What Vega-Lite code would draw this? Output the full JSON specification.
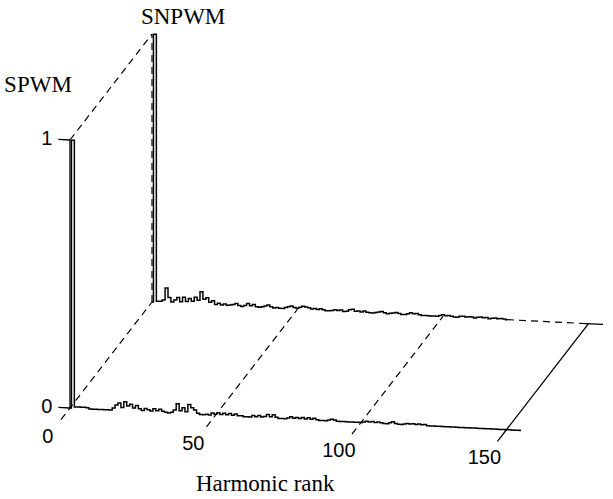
{
  "$schema": "https://vega.github.io/schema/vega-lite/v6.json",
  "width": 613,
  "height": 499,
  "autosize": {"type": "fit", "contains": "padding"},
  "padding": 0,
  "background": "white",
  "config": {"view": {"stroke": null}},
  "datasets": {
    "spectra": [
      {"s":"SPWM","h":0,"a":0},{"s":"SPWM","h":1,"a":1},{"s":"SPWM","h":2,"a":0.005},{"s":"SPWM","h":3,"a":0.005},{"s":"SPWM","h":4,"a":0.005},{"s":"SPWM","h":5,"a":0.005},{"s":"SPWM","h":6,"a":0.004},{"s":"SPWM","h":7,"a":0},{"s":"SPWM","h":8,"a":0},{"s":"SPWM","h":9,"a":0},{"s":"SPWM","h":10,"a":0},{"s":"SPWM","h":11,"a":0},{"s":"SPWM","h":12,"a":0},{"s":"SPWM","h":13,"a":0},{"s":"SPWM","h":14,"a":0},
      {"s":"SPWM","h":15,"a":0.008},{"s":"SPWM","h":16,"a":0.02},{"s":"SPWM","h":17,"a":0.028},{"s":"SPWM","h":18,"a":0.012},{"s":"SPWM","h":19,"a":0.034},{"s":"SPWM","h":20,"a":0.018},{"s":"SPWM","h":21,"a":0.025},{"s":"SPWM","h":22,"a":0.012},{"s":"SPWM","h":23,"a":0.022},{"s":"SPWM","h":24,"a":0.01},
      {"s":"SPWM","h":25,"a":0.004},{"s":"SPWM","h":26,"a":0.012},{"s":"SPWM","h":27,"a":0.008},{"s":"SPWM","h":28,"a":0.004},{"s":"SPWM","h":29,"a":0.013},{"s":"SPWM","h":30,"a":0.006},{"s":"SPWM","h":31,"a":0.012},{"s":"SPWM","h":32,"a":0.005},{"s":"SPWM","h":33,"a":0.002},{"s":"SPWM","h":34,"a":0},{"s":"SPWM","h":35,"a":0.003},
      {"s":"SPWM","h":36,"a":0.012},{"s":"SPWM","h":37,"a":0.036},{"s":"SPWM","h":38,"a":0.01},{"s":"SPWM","h":39,"a":0.022},{"s":"SPWM","h":40,"a":0.008},{"s":"SPWM","h":41,"a":0.035},{"s":"SPWM","h":42,"a":0.024},{"s":"SPWM","h":43,"a":0.016},{"s":"SPWM","h":44,"a":0.004},
      {"s":"SPWM","h":45,"a":0},{"s":"SPWM","h":46,"a":0},{"s":"SPWM","h":47,"a":0.002},{"s":"SPWM","h":48,"a":0},{"s":"SPWM","h":49,"a":0.008},{"s":"SPWM","h":50,"a":0.004},{"s":"SPWM","h":51,"a":0.01},{"s":"SPWM","h":52,"a":0.004},{"s":"SPWM","h":53,"a":0.009},{"s":"SPWM","h":54,"a":0.004},{"s":"SPWM","h":55,"a":0.009},{"s":"SPWM","h":56,"a":0.003},{"s":"SPWM","h":57,"a":0.008},{"s":"SPWM","h":58,"a":0.002},{"s":"SPWM","h":59,"a":0.003},
      {"s":"SPWM","h":60,"a":0},{"s":"SPWM","h":61,"a":0},{"s":"SPWM","h":62,"a":0},{"s":"SPWM","h":63,"a":0.006},{"s":"SPWM","h":64,"a":0.002},{"s":"SPWM","h":65,"a":0.007},{"s":"SPWM","h":66,"a":0.002},{"s":"SPWM","h":67,"a":0.004},{"s":"SPWM","h":68,"a":0.012},{"s":"SPWM","h":69,"a":0.005},{"s":"SPWM","h":70,"a":0.013},{"s":"SPWM","h":71,"a":0.004},{"s":"SPWM","h":72,"a":0},{"s":"SPWM","h":73,"a":0},{"s":"SPWM","h":74,"a":0},
      {"s":"SPWM","h":75,"a":0.003},{"s":"SPWM","h":76,"a":0.008},{"s":"SPWM","h":77,"a":0.003},{"s":"SPWM","h":78,"a":0.007},{"s":"SPWM","h":79,"a":0.003},{"s":"SPWM","h":80,"a":0.008},{"s":"SPWM","h":81,"a":0.003},{"s":"SPWM","h":82,"a":0.008},{"s":"SPWM","h":83,"a":0.003},{"s":"SPWM","h":84,"a":0.007},{"s":"SPWM","h":85,"a":0.002},{"s":"SPWM","h":86,"a":0},{"s":"SPWM","h":87,"a":0},{"s":"SPWM","h":88,"a":0},{"s":"SPWM","h":89,"a":0.003},
      {"s":"SPWM","h":90,"a":0.007},{"s":"SPWM","h":91,"a":0.004},{"s":"SPWM","h":92,"a":0},{"s":"SPWM","h":93,"a":0},{"s":"SPWM","h":94,"a":0},{"s":"SPWM","h":95,"a":0},{"s":"SPWM","h":96,"a":0},{"s":"SPWM","h":97,"a":0},{"s":"SPWM","h":98,"a":0},{"s":"SPWM","h":99,"a":0},{"s":"SPWM","h":100,"a":0},
      {"s":"SPWM","h":101,"a":0.002},{"s":"SPWM","h":102,"a":0.006},{"s":"SPWM","h":103,"a":0.003},{"s":"SPWM","h":104,"a":0.006},{"s":"SPWM","h":105,"a":0.003},{"s":"SPWM","h":106,"a":0.005},{"s":"SPWM","h":107,"a":0.003},{"s":"SPWM","h":108,"a":0},{"s":"SPWM","h":109,"a":0},{"s":"SPWM","h":110,"a":0.004},{"s":"SPWM","h":111,"a":0.009},{"s":"SPWM","h":112,"a":0.003},{"s":"SPWM","h":113,"a":0},{"s":"SPWM","h":114,"a":0},
      {"s":"SPWM","h":115,"a":0.002},{"s":"SPWM","h":116,"a":0.005},{"s":"SPWM","h":117,"a":0.003},{"s":"SPWM","h":118,"a":0.005},{"s":"SPWM","h":119,"a":0.003},{"s":"SPWM","h":120,"a":0.005},{"s":"SPWM","h":121,"a":0.003},{"s":"SPWM","h":122,"a":0.004},{"s":"SPWM","h":123,"a":0},{"s":"SPWM","h":124,"a":0},{"s":"SPWM","h":125,"a":0},
      {"s":"SPWM","h":126,"a":0},{"s":"SPWM","h":127,"a":0},{"s":"SPWM","h":128,"a":0},{"s":"SPWM","h":129,"a":0},{"s":"SPWM","h":130,"a":0},{"s":"SPWM","h":131,"a":0},{"s":"SPWM","h":132,"a":0},{"s":"SPWM","h":133,"a":0},{"s":"SPWM","h":134,"a":0},{"s":"SPWM","h":135,"a":0},{"s":"SPWM","h":136,"a":0},{"s":"SPWM","h":137,"a":0},{"s":"SPWM","h":138,"a":0},{"s":"SPWM","h":139,"a":0},{"s":"SPWM","h":140,"a":0},
      {"s":"SPWM","h":141,"a":0},{"s":"SPWM","h":142,"a":0},{"s":"SPWM","h":143,"a":0},{"s":"SPWM","h":144,"a":0},{"s":"SPWM","h":145,"a":0},{"s":"SPWM","h":146,"a":0},{"s":"SPWM","h":147,"a":0},{"s":"SPWM","h":148,"a":0},{"s":"SPWM","h":149,"a":0},{"s":"SPWM","h":150,"a":0},{"s":"SPWM","h":151,"a":0},{"s":"SPWM","h":152,"a":0},{"s":"SPWM","h":153,"a":0},{"s":"SPWM","h":154,"a":0},{"s":"SPWM","h":155,"a":0},

      {"s":"SNPWM","h":0,"a":0},{"s":"SNPWM","h":1,"a":1},{"s":"SNPWM","h":2,"a":0.004},{"s":"SNPWM","h":3,"a":0.004},{"s":"SNPWM","h":4,"a":0.01},{"s":"SNPWM","h":5,"a":0.055},{"s":"SNPWM","h":6,"a":0.02},{"s":"SNPWM","h":7,"a":0.004},{"s":"SNPWM","h":8,"a":0.012},{"s":"SNPWM","h":9,"a":0.022},{"s":"SNPWM","h":10,"a":0.006},
      {"s":"SNPWM","h":11,"a":0.024},{"s":"SNPWM","h":12,"a":0.008},{"s":"SNPWM","h":13,"a":0.02},{"s":"SNPWM","h":14,"a":0.01},{"s":"SNPWM","h":15,"a":0.026},{"s":"SNPWM","h":16,"a":0.015},{"s":"SNPWM","h":17,"a":0.047},{"s":"SNPWM","h":18,"a":0.02},{"s":"SNPWM","h":19,"a":0.026},{"s":"SNPWM","h":20,"a":0.01},
      {"s":"SNPWM","h":21,"a":0.016},{"s":"SNPWM","h":22,"a":0.003},{"s":"SNPWM","h":23,"a":0.008},{"s":"SNPWM","h":24,"a":0.002},{"s":"SNPWM","h":25,"a":0.006},{"s":"SNPWM","h":26,"a":0.002},{"s":"SNPWM","h":27,"a":0.003},{"s":"SNPWM","h":28,"a":0.006},{"s":"SNPWM","h":29,"a":0.01},{"s":"SNPWM","h":30,"a":0.003},
      {"s":"SNPWM","h":31,"a":0},{"s":"SNPWM","h":32,"a":0.004},{"s":"SNPWM","h":33,"a":0.012},{"s":"SNPWM","h":34,"a":0.004},{"s":"SNPWM","h":35,"a":0.01},{"s":"SNPWM","h":36,"a":0.002},{"s":"SNPWM","h":37,"a":0},{"s":"SNPWM","h":38,"a":0.003},{"s":"SNPWM","h":39,"a":0.006},{"s":"SNPWM","h":40,"a":0.01},
      {"s":"SNPWM","h":41,"a":0.004},{"s":"SNPWM","h":42,"a":0},{"s":"SNPWM","h":43,"a":0.003},{"s":"SNPWM","h":44,"a":0},{"s":"SNPWM","h":45,"a":0},{"s":"SNPWM","h":46,"a":0.004},{"s":"SNPWM","h":47,"a":0.008},{"s":"SNPWM","h":48,"a":0.011},{"s":"SNPWM","h":49,"a":0.006},{"s":"SNPWM","h":50,"a":0.004},
      {"s":"SNPWM","h":51,"a":0.008},{"s":"SNPWM","h":52,"a":0.012},{"s":"SNPWM","h":53,"a":0.01},{"s":"SNPWM","h":54,"a":0.008},{"s":"SNPWM","h":55,"a":0.004},{"s":"SNPWM","h":56,"a":0.006},{"s":"SNPWM","h":57,"a":0.003},{"s":"SNPWM","h":58,"a":0.006},{"s":"SNPWM","h":59,"a":0.003},{"s":"SNPWM","h":60,"a":0},
      {"s":"SNPWM","h":61,"a":0},{"s":"SNPWM","h":62,"a":0.002},{"s":"SNPWM","h":63,"a":0.005},{"s":"SNPWM","h":64,"a":0.003},{"s":"SNPWM","h":65,"a":0.005},{"s":"SNPWM","h":66,"a":0},{"s":"SNPWM","h":67,"a":0.002},{"s":"SNPWM","h":68,"a":0.008},{"s":"SNPWM","h":69,"a":0.01},{"s":"SNPWM","h":70,"a":0.003},
      {"s":"SNPWM","h":71,"a":0.005},{"s":"SNPWM","h":72,"a":0.002},{"s":"SNPWM","h":73,"a":0.006},{"s":"SNPWM","h":74,"a":0.002},{"s":"SNPWM","h":75,"a":0},{"s":"SNPWM","h":76,"a":0},{"s":"SNPWM","h":77,"a":0.002},{"s":"SNPWM","h":78,"a":0.005},{"s":"SNPWM","h":79,"a":0.007},{"s":"SNPWM","h":80,"a":0.003},
      {"s":"SNPWM","h":81,"a":0},{"s":"SNPWM","h":82,"a":0.002},{"s":"SNPWM","h":83,"a":0.004},{"s":"SNPWM","h":84,"a":0.006},{"s":"SNPWM","h":85,"a":0.003},{"s":"SNPWM","h":86,"a":0},{"s":"SNPWM","h":87,"a":0},{"s":"SNPWM","h":88,"a":0.004},{"s":"SNPWM","h":89,"a":0.008},{"s":"SNPWM","h":90,"a":0.005},
      {"s":"SNPWM","h":91,"a":0.006},{"s":"SNPWM","h":92,"a":0.002},{"s":"SNPWM","h":93,"a":0},{"s":"SNPWM","h":94,"a":0},{"s":"SNPWM","h":95,"a":0},{"s":"SNPWM","h":96,"a":0},{"s":"SNPWM","h":97,"a":0},{"s":"SNPWM","h":98,"a":0},{"s":"SNPWM","h":99,"a":0.003},{"s":"SNPWM","h":100,"a":0.006},
      {"s":"SNPWM","h":101,"a":0.003},{"s":"SNPWM","h":102,"a":0.005},{"s":"SNPWM","h":103,"a":0.002},{"s":"SNPWM","h":104,"a":0},{"s":"SNPWM","h":105,"a":0},{"s":"SNPWM","h":106,"a":0.004},{"s":"SNPWM","h":107,"a":0.005},{"s":"SNPWM","h":108,"a":0.002},{"s":"SNPWM","h":109,"a":0.004},{"s":"SNPWM","h":110,"a":0.003},
      {"s":"SNPWM","h":111,"a":0},{"s":"SNPWM","h":112,"a":0.004},{"s":"SNPWM","h":113,"a":0.005},{"s":"SNPWM","h":114,"a":0.003},{"s":"SNPWM","h":115,"a":0.004},{"s":"SNPWM","h":116,"a":0},{"s":"SNPWM","h":117,"a":0.003},{"s":"SNPWM","h":118,"a":0.004},{"s":"SNPWM","h":119,"a":0.002},{"s":"SNPWM","h":120,"a":0.003},
      {"s":"SNPWM","h":121,"a":0.002},{"s":"SNPWM","h":122,"a":0}
    ],
    "frame": [
      {"seg":"front-axis","h":0,"d":0,"a":0,"h2":0,"d2":0,"a2":1},
      {"seg":"tick-a0","h":-4,"d":0,"a":0,"h2":0,"d2":0,"a2":0},
      {"seg":"tick-a1","h":-4,"d":0,"a":1,"h2":0,"d2":0,"a2":1},
      {"seg":"depth-0","h":0,"d":-0.11,"a":0,"h2":0,"d2":1,"a2":0},
      {"seg":"depth-50","h":50,"d":-0.11,"a":0,"h2":50,"d2":1,"a2":0},
      {"seg":"depth-100","h":100,"d":-0.11,"a":0,"h2":100,"d2":1,"a2":0},
      {"seg":"depth-150","h":150,"d":-0.11,"a":0,"h2":150,"d2":1,"a2":0},
      {"seg":"top-link","h":0,"d":0,"a":1,"h2":0,"d2":1,"a2":1},
      {"seg":"back-axis","h":0,"d":1,"a":0,"h2":0,"d2":1,"a2":1},
      {"seg":"back-tail","h":122,"d":1,"a":0,"h2":150,"d2":1,"a2":0},
      {"seg":"back-corner","h":149,"d":1,"a":0,"h2":155,"d2":1,"a2":0}
    ],
    "labels": [
      {"role":"tick","text":"0","h":0,"d":-0.27,"a":0},
      {"role":"tick","text":"50","h":50,"d":-0.27,"a":0},
      {"role":"tick","text":"100","h":100,"d":-0.27,"a":0},
      {"role":"tick","text":"150","h":150,"d":-0.27,"a":0},
      {"role":"tick","text":"0","h":-8,"d":0,"a":0},
      {"role":"tick","text":"1","h":-8,"d":0,"a":1},
      {"role":"title","text":"SPWM","h":-11,"d":0,"a":1.2},
      {"role":"title","text":"SNPWM","h":10.7,"d":1,"a":1.07},
      {"role":"title","text":"Harmonic rank","h":84,"d":-0.6,"a":0}
    ]
  },
  "layer": [
    {
      "data": {"name": "frame"},
      "transform": [
        {"filter": {"field": "seg", "oneOf": ["depth-0", "depth-50", "depth-100", "top-link", "back-axis", "back-tail"]}},
        {"calculate": "datum.h + 28.18*datum.d", "as": "xs"},
        {"calculate": "datum.a - 0.00054*datum.h + 0.3955*datum.d", "as": "ys"},
        {"calculate": "datum.h2 + 28.18*datum.d2", "as": "xs2"},
        {"calculate": "datum.a2 - 0.00054*datum.h2 + 0.3955*datum.d2", "as": "ys2"}
      ],
      "mark": {"type": "rule", "color": "black", "strokeWidth": 1.2, "strokeDash": [7, 5]},
      "encoding": {
        "x": {"field": "xs", "type": "quantitative", "axis": null, "scale": {"domain": [-24.05, 186.6], "nice": false, "zero": false}},
        "y": {"field": "ys", "type": "quantitative", "axis": null, "scale": {"domain": [-0.3396, 1.5224], "nice": false, "zero": false}},
        "x2": {"field": "xs2"},
        "y2": {"field": "ys2"}
      }
    },
    {
      "data": {"name": "frame"},
      "transform": [
        {"filter": {"field": "seg", "oneOf": ["front-axis", "tick-a0", "tick-a1", "depth-150", "back-corner"]}},
        {"calculate": "datum.h + 28.18*datum.d", "as": "xs"},
        {"calculate": "datum.a - 0.00054*datum.h + 0.3955*datum.d", "as": "ys"},
        {"calculate": "datum.h2 + 28.18*datum.d2", "as": "xs2"},
        {"calculate": "datum.a2 - 0.00054*datum.h2 + 0.3955*datum.d2", "as": "ys2"}
      ],
      "mark": {"type": "rule", "color": "black", "strokeWidth": 1.3},
      "encoding": {
        "x": {"field": "xs", "type": "quantitative"},
        "y": {"field": "ys", "type": "quantitative"},
        "x2": {"field": "xs2"},
        "y2": {"field": "ys2"}
      }
    },
    {
      "data": {"name": "spectra"},
      "transform": [
        {"calculate": "datum.s === 'SNPWM' ? 1 : 0", "as": "d"},
        {"calculate": "datum.h + 28.18*datum.d", "as": "xs"},
        {"calculate": "datum.a - 0.00054*datum.h + 0.3955*datum.d", "as": "ys"}
      ],
      "mark": {"type": "line", "color": "black", "strokeWidth": 1.5, "interpolate": "step"},
      "encoding": {
        "x": {"field": "xs", "type": "quantitative"},
        "y": {"field": "ys", "type": "quantitative"},
        "detail": {"field": "s"}
      }
    },
    {
      "data": {"name": "labels"},
      "transform": [
        {"filter": "datum.role === 'tick'"},
        {"calculate": "datum.h + 28.18*datum.d", "as": "xs"},
        {"calculate": "datum.a - 0.00054*datum.h + 0.3955*datum.d", "as": "ys"}
      ],
      "mark": {"type": "text", "font": "Liberation Sans, Arial, sans-serif", "fontSize": 20, "color": "black", "align": "center", "baseline": "middle"},
      "encoding": {
        "x": {"field": "xs", "type": "quantitative"},
        "y": {"field": "ys", "type": "quantitative"},
        "text": {"field": "text"}
      }
    },
    {
      "data": {"name": "labels"},
      "transform": [
        {"filter": "datum.role === 'title'"},
        {"calculate": "datum.h + 28.18*datum.d", "as": "xs"},
        {"calculate": "datum.a - 0.00054*datum.h + 0.3955*datum.d", "as": "ys"}
      ],
      "mark": {"type": "text", "font": "Liberation Serif, Times New Roman, serif", "fontSize": 23, "color": "black", "align": "center", "baseline": "middle"},
      "encoding": {
        "x": {"field": "xs", "type": "quantitative"},
        "y": {"field": "ys", "type": "quantitative"},
        "text": {"field": "text"}
      }
    }
  ]
}
